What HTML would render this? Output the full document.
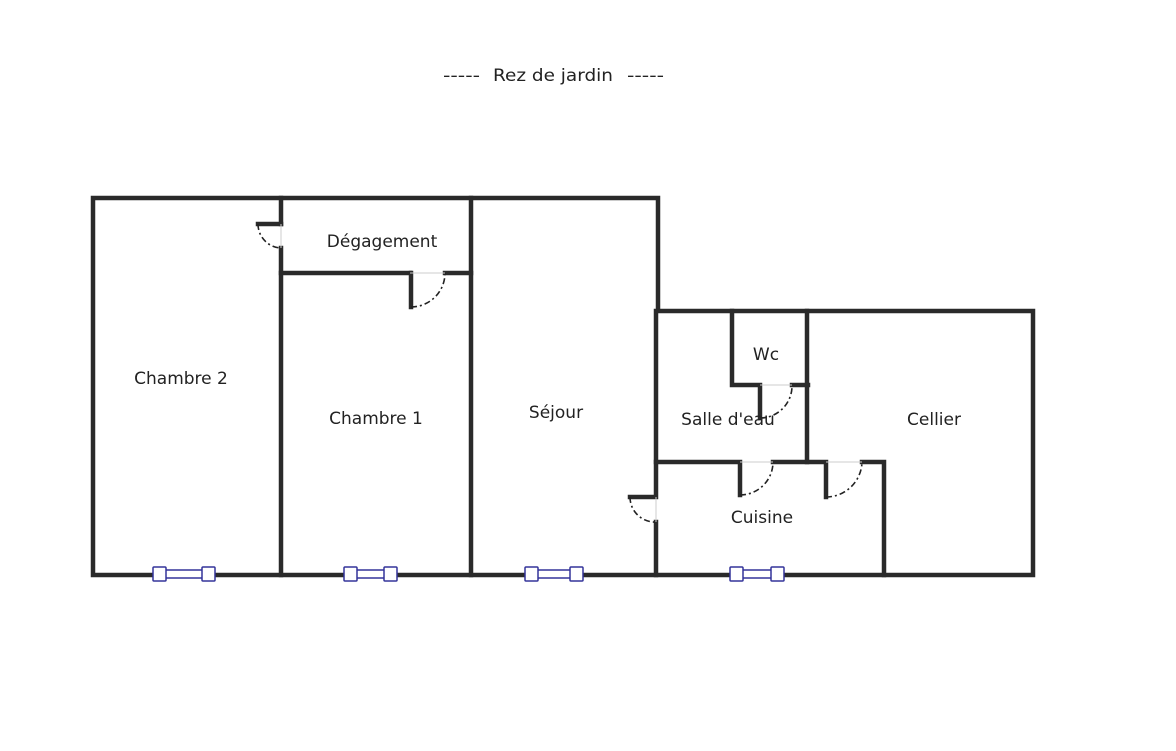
<!DOCTYPE html>
<html><head><meta charset="utf-8"><style>
html,body{margin:0;padding:0;background:#fff;width:1176px;height:751px;overflow:hidden}
text{font-family:"DejaVu Sans","Liberation Sans",sans-serif;fill:#222}
</style></head><body>
<svg width="1176" height="751" viewBox="0 0 1176 751" xmlns="http://www.w3.org/2000/svg">
<text x="443" y="81" font-size="17" fill="#555" textLength="37" lengthAdjust="spacingAndGlyphs">-----</text>
<text x="493" y="81" font-size="17" fill="#333" textLength="120" lengthAdjust="spacingAndGlyphs">Rez de jardin</text>
<text x="627" y="81" font-size="17" fill="#555" textLength="37" lengthAdjust="spacingAndGlyphs">-----</text>
<g stroke="#2a2a2a" stroke-width="4.5" stroke-linecap="square" fill="none">
<path d="M93 198H658V311H1033V575H93Z"/>
<path d="M281 198V224M281 248V575"/>
<path d="M258 224H281"/>
<path d="M281 273H410M445 273H471"/>
<path d="M411 273V307"/>
<path d="M471 198V575"/>
<path d="M656 311V497M656 522V575M630 497H656"/>
<path d="M732 311V385H760M760 385V418M792 385H808"/>
<path d="M807 311V462"/>
<path d="M656 462H740M740 462V495M773 462H826M826 462V497M862 462H884V575"/>
</g>
<g stroke="#222" stroke-width="1.6" stroke-dasharray="6,3,2,3" fill="none">
<path d="M258 224A24 24 0 0 0 281 248"/>
<path d="M411 307A34 34 0 0 0 445 273"/>
<path d="M630 497A25 25 0 0 0 656 522"/>
<path d="M760 418A32 32 0 0 0 792 386"/>
<path d="M740 495A33 33 0 0 0 773 462"/>
<path d="M826 497A36 36 0 0 0 862 462"/>
</g>
<g stroke="#ccc" stroke-width="1">
<path d="M281 224V248M410 273H445M656 497V522M760 385H792M740 462H773M826 462H862"/>
</g>
<g stroke="#33339a" stroke-width="1.5" fill="#fff">
<rect x="159" y="570" width="49" height="8" fill="#fff"/>
<rect x="351" y="570" width="39" height="8" fill="#fff"/>
<rect x="531" y="570" width="46" height="8" fill="#fff"/>
<rect x="736" y="570" width="42" height="8" fill="#fff"/>
<rect x="153" y="567" width="13" height="14" rx="1"/><rect x="202" y="567" width="13" height="14" rx="1"/>
<rect x="344" y="567" width="13" height="14" rx="1"/><rect x="384" y="567" width="13" height="14" rx="1"/>
<rect x="525" y="567" width="13" height="14" rx="1"/><rect x="570" y="567" width="13" height="14" rx="1"/>
<rect x="730" y="567" width="13" height="14" rx="1"/><rect x="771" y="567" width="13" height="14" rx="1"/>
</g>
<g font-size="17" text-anchor="middle">
<text x="382" y="247">Dégagement</text>
<text x="181" y="384">Chambre 2</text>
<text x="376" y="424">Chambre 1</text>
<text x="556" y="418">Séjour</text>
<text x="766" y="360">Wc</text>
<text x="728" y="425">Salle d'eau</text>
<text x="934" y="425">Cellier</text>
<text x="762" y="523">Cuisine</text>
</g>
</svg>
</body></html>
